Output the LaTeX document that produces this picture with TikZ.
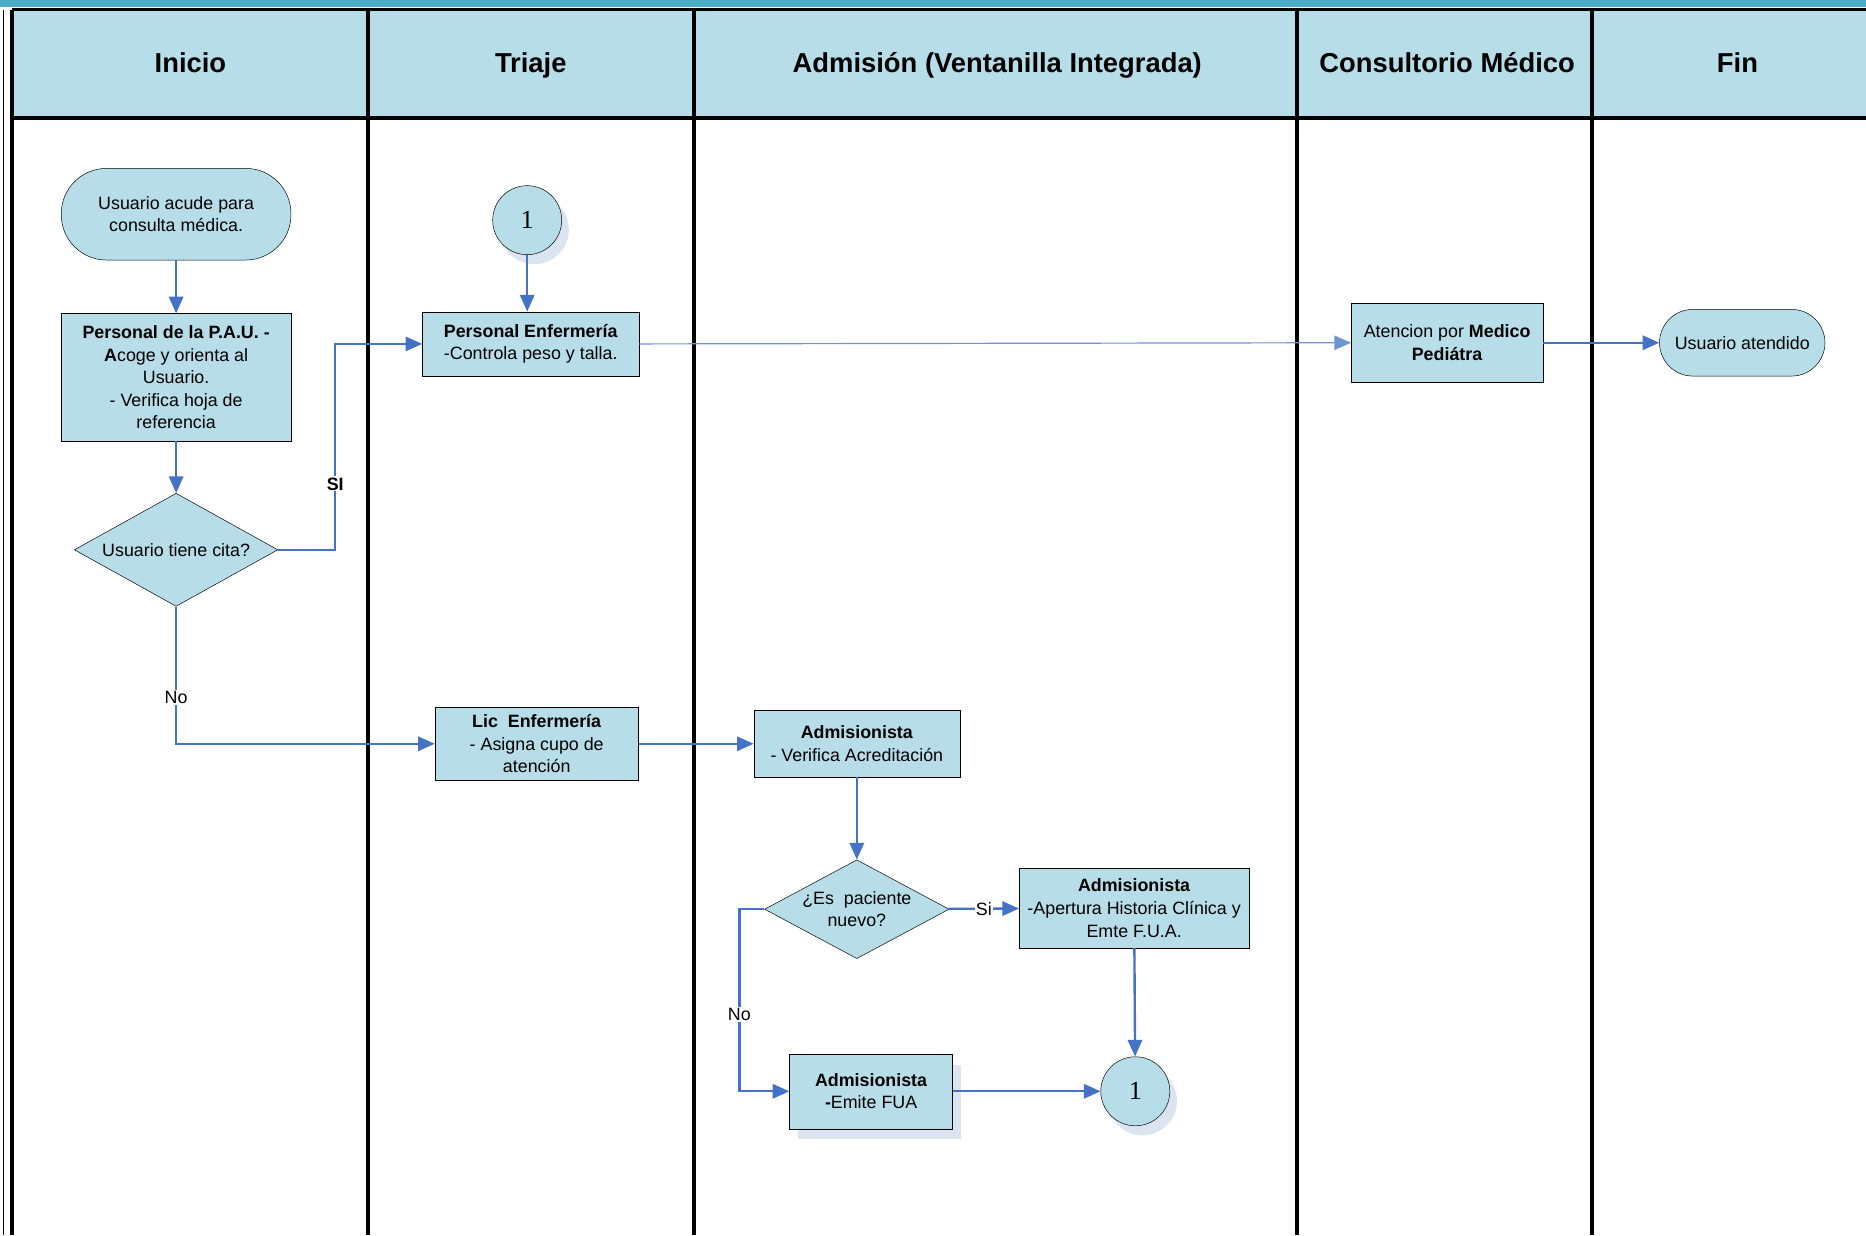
\documentclass[tikz,border=0pt]{standalone}
\usepackage{fontspec}
\setmainfont{Liberation Sans}
\newfontfamily\numfont{Liberation Serif}
\usetikzlibrary{shapes.geometric,arrows.meta,shadows}
\definecolor{myfill}{HTML}{B7DDE8}
\definecolor{myteal}{HTML}{4BACC6}
\definecolor{myblue}{HTML}{4472C4}
\definecolor{mythinblue}{HTML}{6F94D2}
\definecolor{myshadow}{HTML}{DCE4F2}

\begin{document}
\begin{tikzpicture}[x=1pt,y=-1pt]
\tikzset{
  HeadStyle/.style ={anchor=base, font=\fontsize{23}{26}\selectfont\bfseries},
  BoxStyle/.style ={draw=black, fill=myfill, align=center, inner sep=2pt, font=\fontsize{15}{19}\selectfont},
  TermStyle/.style ={BoxStyle, rounded corners=#1},
  DecStyle/.style ={BoxStyle, diamond, inner sep=0pt},
  LinkStyle/.style ={draw=black, fill=myfill, circle, minimum size=58pt, inner sep=0pt, font=\numfont\fontsize{22}{22}\selectfont,
    drop shadow={shadow xshift=6pt, shadow yshift=-8pt, fill=myshadow, opacity=1}},
  LabelStyle/.style ={fill=white, inner sep=1pt, font=\fontsize{15}{17}\selectfont},
  flow/.style ={draw=myblue, line width=2pt, -{Triangle[length=14pt,width=12pt]}},
  thinflow/.style ={draw=mythinblue, line width=1pt, -{Triangle[length=14pt,width=12pt]}},
  lane/.style ={draw=black, line width=3.5pt}
}
\useasboundingbox (0,0) rectangle (1568,1038);
% lanes
\fill[myteal] (0,0) rectangle (1568,6);
\fill[myfill] (10,8) rectangle (1568,99);
\draw[line width=1pt] (3,8) -- (3,1038);
\draw[lane] (10,8) -- (10,1038);
\draw[line width=3pt] (10,8) -- (1568,8);
\draw[lane] (10,99) -- (1568,99);
\foreach \x in {309,583,1090,1338}
  \draw[lane] (\x,8) -- (\x,1038);
\node[HeadStyle] (hInicio) at (160,61) {Inicio};
\node[HeadStyle] (hTriaje) at (446,61) {Triaje};
\node[HeadStyle] (hAdmision) at (838,61) {Admisión (Ventanilla Integrada)};
\node[HeadStyle] (hConsultorio) at (1216,61) {Consultorio Médico};
\node[HeadStyle] (hFin) at (1460,61) {Fin};
% steps
\node[TermStyle=38pt, minimum width=193pt, minimum height=77pt] (start) at (148,180) {Usuario acude para\\consulta médica.};
\node[BoxStyle, minimum width=193pt, minimum height=107pt] (pau) at (148,317)
  {\textbf{Personal de la P.A.U. -}\\\textbf{A}coge y orienta al\\Usuario.\\- Verifica hoja de\\referencia};
\node[DecStyle, shape aspect=1.8, minimum width=171pt, minimum height=95pt] (cita) at (148,462) {Usuario tiene cita?};
\node[LinkStyle] (uno) at (443,185) {1};
\node[BoxStyle, minimum width=182pt, minimum height=54pt] (enf) at (446,289) {\textbf{Personal Enfermería}\\-Controla peso y talla.};
\node[BoxStyle, minimum width=161pt, minimum height=67pt] (ped) at (1216,288) {Atencion por \textbf{Medico}\\\textbf{Pediátra}};
\node[TermStyle=28pt, minimum width=139pt, minimum height=56pt] (fin) at (1464,288) {Usuario atendido};
\node[BoxStyle, minimum width=171pt, minimum height=61pt] (lic) at (451,625) {\textbf{Lic\ \ Enfermería}\\- Asigna cupo de\\atención};
\node[BoxStyle, minimum width=173pt, minimum height=56pt] (ver) at (720,625) {\textbf{Admisionista}\\- Verifica Acreditación};
\node[DecStyle, shape aspect=1.9, minimum width=155pt, minimum height=83pt] (nuevo) at (720,764) {¿Es\ \ paciente\\nuevo?};
\node[BoxStyle, minimum width=193pt, minimum height=67pt] (hc) at (953,763) {\textbf{Admisionista}\\-Apertura Historia Clínica y\\Emte F.U.A.};
\node[BoxStyle, minimum width=137pt, minimum height=63pt,
  drop shadow={shadow xshift=7pt, shadow yshift=-9pt, fill=myshadow, opacity=1}] (fua) at (732,917) {\textbf{Admisionista}\\\textbf{-}Emite FUA};
\node[LinkStyle] (dos) at (954,917) {1};
% connectors
\draw[flow] (start) -- (pau);
\draw[flow] (pau) -- (cita);
\draw[flow] (cita.east) -- ++(48,0) |- node[LabelStyle, pos=0.16, font=\fontsize{15}{17}\selectfont\bfseries] (lblSi) {SI} (enf.west);
\draw[flow] (cita.south) |- node[LabelStyle, pos=0.33] (lblNo) {No} (lic.west);
\draw[flow] (uno) -- (uno |- enf.north);
\draw[thinflow] (enf.east) -- (ped.west);
\draw[flow] (ped) -- (fin);
\draw[flow] (lic) -- (ver);
\draw[flow] (ver) -- (nuevo);
\draw[flow] (nuevo) -- node[LabelStyle] (lblSi2) {Si} (hc);
\draw[flow] (nuevo.west) -- ++(-21,0) |- node[LabelStyle, pos=0.29] (lblNo2) {No} (fua.west);
\draw[flow] (hc) -- (dos);
\draw[flow] (fua) -- (dos);
\end{tikzpicture}
\end{document}
